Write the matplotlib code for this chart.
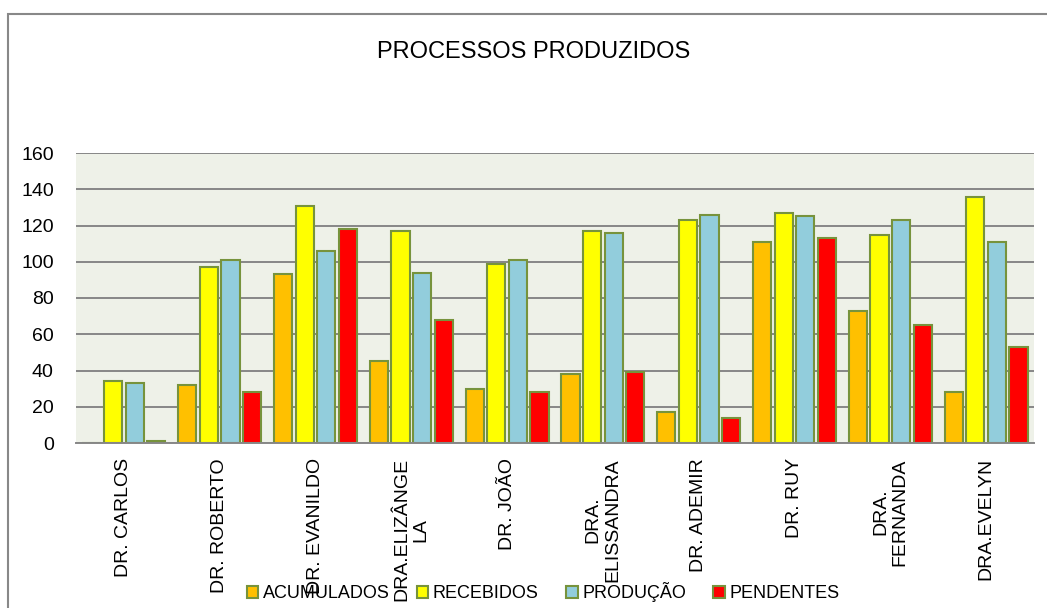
import matplotlib
matplotlib.use("Agg")
import matplotlib.pyplot as plt
import numpy as np
from matplotlib.patches import Rectangle

categories = ["DR. CARLOS", "DR. ROBERTO", "DR. EVANILDO", "DRA.ELIZÂNGE\nLA", "DR. JOÃO",
              "DRA.\nELISSANDRA", "DR. ADEMIR", "DR. RUY", "DRA.\nFERNANDA", "DRA.EVELYN"]
acumulados = [0, 32, 93, 45, 30, 38, 17, 111, 73, 28]
recebidos = [34, 97, 131, 117, 99, 117, 123, 127, 115, 136]
producao = [33, 101, 106, 94, 101, 116, 126, 125, 123, 111]
pendentes = [1, 28, 118, 68, 28, 39, 14, 113, 65, 53]

series_names = ["ACUMULADOS", "RECEBIDOS", "PRODUÇÃO", "PENDENTES"]
series_vals = [acumulados, recebidos, producao, pendentes]
colors = ["#FFC000", "#FFFF00", "#92CDDC", "#FF0000"]
edge = "#77933C"

plt.rcParams['font.family'] = ["Liberation Sans", "DejaVu Sans"]

fig = plt.figure(figsize=(10.47, 6.08), dpi=100)
fig.patch.set_facecolor("white")

# outer chart border
fig.patches.append(Rectangle((8/1047, -0.1), 1.2, (608-14)/608 + 0.1, transform=fig.transFigure,
                             fill=False, edgecolor="#888888", linewidth=1.5, zorder=0))

ax = fig.add_axes([76/1047, (608-443)/608, (1034-76)/1047, (443-153)/608])
ax.set_facecolor("#EEF1E8")

x = np.arange(len(categories))
bw = 0.19
step = 0.225
for i, (name, vals, c) in enumerate(zip(series_names, series_vals, colors)):
    off = (i - 1.5) * step
    ax.bar(x + off, vals, width=bw, color=c, edgecolor=edge, linewidth=1.5, label=name, zorder=3)

ax.set_xlim(-0.5, len(categories) - 0.5)
ax.set_ylim(0, 160)
ax.set_yticks(np.arange(0, 161, 20))
ax.yaxis.grid(True, color="#878787", linewidth=1.4, zorder=1)
ax.set_axisbelow(True)
for s in ["left", "right", "top"]:
    ax.spines[s].set_visible(False)
ax.spines["bottom"].set_color("#878787")
ax.spines["bottom"].set_linewidth(1.4)
ax.spines["bottom"].set_zorder(4)

ax.set_xticks(x)
ax.set_xticklabels(categories, rotation=90, fontsize=14, multialignment="center")
ax.tick_params(axis="x", length=0, pad=11)
ax.tick_params(axis="y", length=0, pad=16, labelsize=14)

fig.text(534/1047, 1 - 52/608, "PROCESSOS PRODUZIDOS", ha="center", va="center", fontsize=17)

fig.legend(loc="center", bbox_to_anchor=(543/1047, 1 - 592/608), ncol=4, frameon=False,
           fontsize=13, handlelength=0.65, handleheight=0.65, handletextpad=0.25,
           columnspacing=1.5, borderpad=0)

fig.savefig("out.png", dpi=100, facecolor="white")
